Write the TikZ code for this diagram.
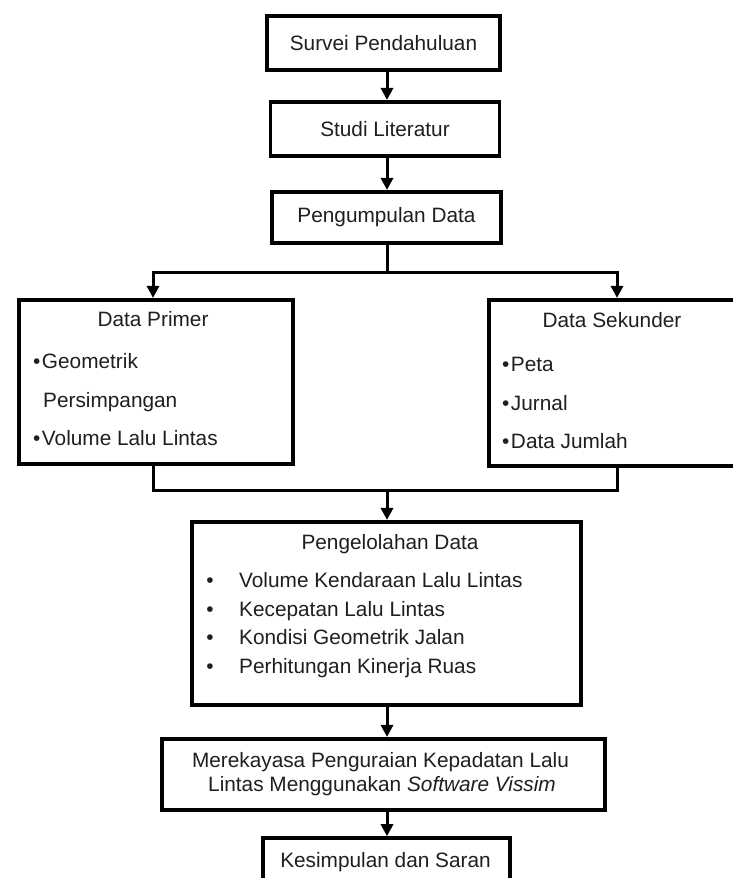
\documentclass[tikz,border=0pt]{standalone}
\usepackage{fontspec}
\setmainfont{Liberation Sans}
\usetikzlibrary{arrows.meta}
\begin{document}
\begin{tikzpicture}[x=1pt,y=-1pt,
  box/.style={draw=black, line width=3.6pt, inner sep=0pt, font=\fontsize{20.8}{24}\selectfont, text=black!88},
  txt/.style={font=\fontsize{20.8}{24}\selectfont, text=black!88, inner sep=0pt},
  conn/.style={line width=3pt, draw=black},
  arr/.style={conn, -{Triangle[length=12pt,width=12pt]}},
]
\useasboundingbox (0,0) rectangle (733,878);
\clip (0,0) rectangle (733,878);
\fill[white] (0,0) rectangle (733,878);

% boxes
\node[box, minimum width=233.5pt, minimum height=54.5pt] (b1) at (383.5,43) {Survei Pendahuluan};
\node[box, minimum width=229pt, minimum height=54.5pt] (b2) at (385,129) {Studi Literatur};
\node[box, minimum width=229.5pt, minimum height=51.5pt] (b3) at (386.5,217.5) {Pengumpulan Data};
\node[box, minimum width=274.5pt, minimum height=164.5pt] (prim) at (156,382) {};
\node[box, minimum width=254.5pt, minimum height=166.5pt] (sek) at (616,383) {};
\node[box, minimum width=389.5pt, minimum height=183.5pt] (peng) at (386.5,613.5) {};
\node[box, minimum width=443.5pt, minimum height=71.5pt] (mer) at (383.5,774.5) {};
\node[box, minimum width=247.5pt, minimum height=48pt] (kes) at (386.5,862) {};

% texts
\node[txt, anchor=base] (primT) at (153,326) {Data Primer};
\node[txt, anchor=base west] (prim1) at (33,368) {•\hspace{1.5pt}Geometrik};
\node[txt, anchor=base west] (prim2) at (43,407) {Persimpangan};
\node[txt, anchor=base west] (prim3) at (33,445) {•\hspace{1.5pt}Volume Lalu Lintas};

\node[txt, anchor=base] (sekT) at (612,327) {Data Sekunder};
\node[txt, anchor=base west] (sek1) at (502,371) {•\hspace{1.5pt}Peta};
\node[txt, anchor=base west] (sek2) at (502,410) {•\hspace{1.5pt}Jurnal};
\node[txt, anchor=base west] (sek3) at (502,448) {•\hspace{1.5pt}Data Jumlah};

\node[txt, anchor=base] (pengT) at (390,549) {Pengelolahan Data};
\foreach \y/\t [count=\i] in {587/Volume Kendaraan Lalu Lintas,616/Kecepatan Lalu Lintas,644/Kondisi Geometrik Jalan,673/Perhitungan Kinerja Ruas}{
  \node[txt, anchor=base] (pb\i) at (210,\y) {•};
  \node[txt, anchor=base west] (pi\i) at (239,\y) {\t};
}

\node[txt, anchor=base] (mer1) at (380.5,767) {Merekayasa Penguraian Kepadatan Lalu};
\node[txt, anchor=base] (mer2) at (382,791) {Lintas Menggunakan \textit{Software Vissim}};
\node[txt, anchor=base] (kesT) at (385.5,867) {Kesimpulan dan Saran};

% connectors
\coordinate (ax) at (387,0);
\coordinate (split) at (387,272);
\coordinate (merge) at (387,490);
\draw[arr] (b1.south -| ax) -- (b2.north -| ax);
\draw[arr] (b2.south -| ax) -- (b3.north -| ax);
\draw[conn] (b3.south -| split) -- (split);
\draw[arr] (split) -| ([xshift=-3pt]prim.north);
\draw[arr] (split) -| ([xshift=1pt]sek.north);
\draw[conn] ([xshift=-3pt]prim.south) |- (merge) -| ([xshift=1pt]sek.south);
\draw[arr] (merge) -- (peng.north -| merge);
\draw[arr] (peng.south -| ax) -- (mer.north -| ax);
\draw[arr] (mer.south -| ax) -- (kes.north -| ax);
\end{tikzpicture}
\end{document}
